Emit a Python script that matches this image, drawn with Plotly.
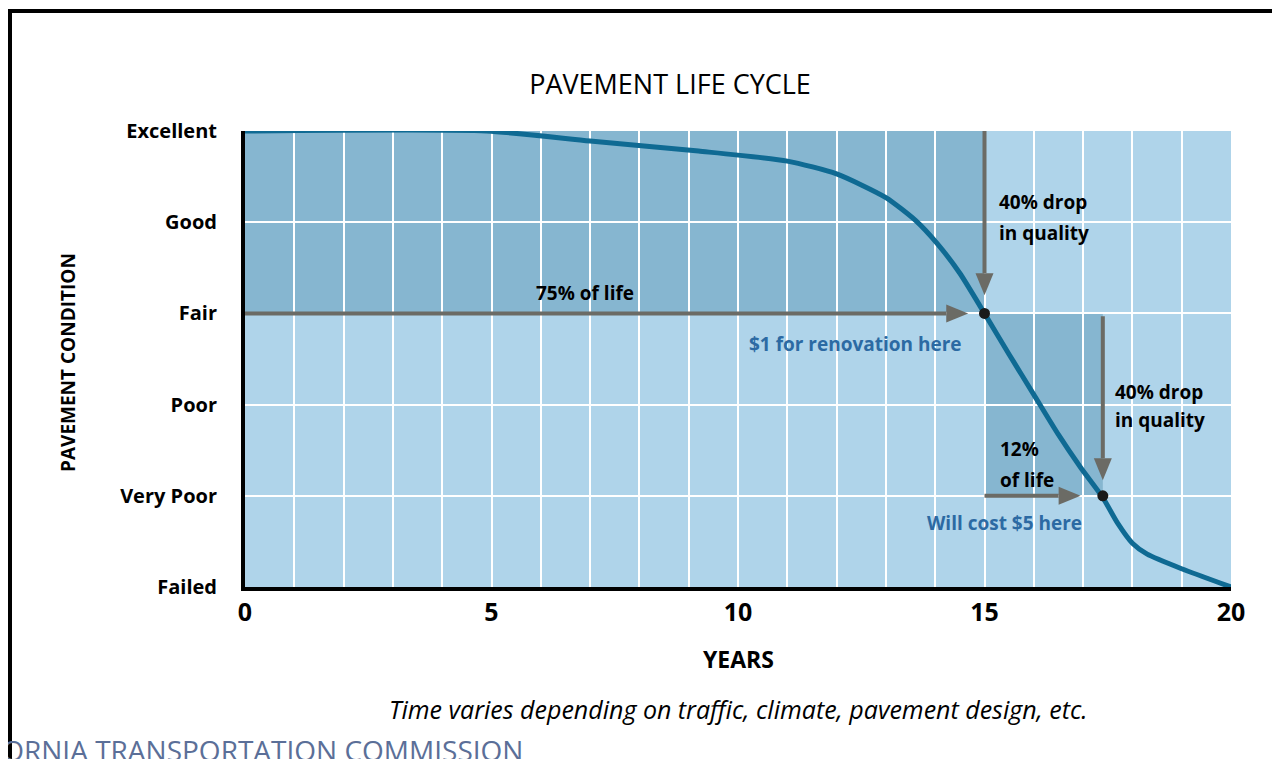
import math

import plotly.graph_objects as go

# pavement condition over time (0 = Failed ... 5 = Excellent)
years = [0, 4.9, 7.0, 9.2, 11.0, 12.0, 13.0, 13.6, 14.05, 14.5, 15.0,
         15.5, 16.0, 16.5, 16.95, 17.4, 17.7, 18.0, 18.3, 19.0, 20.0]
condition = [5, 5, 4.89, 4.78, 4.67, 4.53, 4.27, 4.02, 3.76, 3.44, 3.0,
             2.55, 2.11, 1.67, 1.31, 0.98, 0.70, 0.48, 0.36, 0.2, 0.0]

condition_labels = ["Failed", "Very Poor", "Poor", "Fair", "Good", "Excellent"]
year_ticks = [0, 5, 10, 15, 20]

# renovation points
point_years = [15, 17.4]
point_condition = [3, 1]

# shaded blocks (year range x condition range)
shade_x0 = [0, 15]
shade_x1 = [15, 17.4]
shade_y0 = [3, 1]
shade_y1 = [5, 3]

# arrows: start -> tip
arrow_x0 = [0, 15, 15, 17.4]
arrow_y0 = [3, 5, 1, 2.97]
arrow_x1 = [14.67, 15, 16.95, 17.4]
arrow_y1 = [3, 3.2, 1, 1.17]

# black labels
note_text = ["75% of life", "40% drop", "in quality", "40% drop", "in quality", "12%", "of life"]
note_x = [6.9, 15.25, 15.25, 17.6, 17.6, 15.27, 15.27]
note_y = [3.22, 4.22, 3.88, 2.14, 1.83, 1.51, 1.17]
note_anchor = ["center", "left", "left", "left", "left", "left", "left"]

cost_text = ["$1 for renovation here", "Will cost $5 here"]
cost_x = [12.39, 15.4]
cost_y = [2.66, 0.70]

FONT = "Open Sans"
BG = "#AFD4EA"
DARK = "#86B6D0"
CURVE = "#0F6A93"
GREY = "#6B6B65"
BLUE = "#2C6AA3"

# the page body adds an 8px margin, so work in screen pixels and shift
OFF = 8
W, H = 1280 - OFF, 759 - OFF
PLOT_LEFT, PLOT_RIGHT, PLOT_TOP, PLOT_BOTTOM = 245, 1231, 131, 587
L, T = PLOT_LEFT - OFF, PLOT_TOP - OFF
R, B = W - (PLOT_RIGHT - OFF), H - (PLOT_BOTTOM - OFF)
PW, PH = W - L - R, H - T - B
PX_X = PW / 20
PX_Y = PH / 5


def paper_x(sx):
    return (sx - OFF - L) / PW


def paper_y(sy):
    return (H - B - (sy - OFF)) / PH


fig = go.Figure()

fig.add_trace(
    go.Scatter(
        x=years,
        y=condition,
        mode="lines",
        line=dict(color=CURVE, width=5, shape="spline", smoothing=0.6),
        hoverinfo="skip",
    )
)

fig.add_trace(
    go.Scatter(
        x=point_years,
        y=point_condition,
        mode="markers",
        marker=dict(color="#1A1A1A", size=11),
        hoverinfo="skip",
    )
)

for x0, x1, y0, y1 in zip(shade_x0, shade_x1, shade_y0, shade_y1):
    fig.add_shape(type="rect", x0=x0, x1=x1, y0=y0, y1=y1,
                  fillcolor=DARK, line_width=0, layer="below")

# arrows: a shaft plus a filled triangular head
HEAD_LEN, HEAD_HALF = 22, 9
for x0, y0, x1, y1 in zip(arrow_x0, arrow_y0, arrow_x1, arrow_y1):
    dx, dy = (x1 - x0) * PX_X, (y1 - y0) * PX_Y
    n = math.hypot(dx, dy)
    ux, uy = dx / n, dy / n
    bx, by = x1 - ux * HEAD_LEN / PX_X, y1 - uy * HEAD_LEN / PX_Y
    nx, ny = -uy * HEAD_HALF, ux * HEAD_HALF
    fig.add_shape(type="line", x0=x0, y0=y0, x1=bx, y1=by,
                  line=dict(color=GREY, width=4), layer="above")
    path = "M {} {} L {} {} L {} {} Z".format(
        x1, y1,
        bx + nx / PX_X, by + ny / PX_Y,
        bx - nx / PX_X, by - ny / PX_Y,
    )
    fig.add_shape(type="path", path=path, fillcolor=GREY, line_width=0, layer="above")

for t, x, y, a in zip(note_text, note_x, note_y, note_anchor):
    fig.add_annotation(x=x, y=y, text=f"<b>{t}</b>", showarrow=False, xanchor=a,
                       font=dict(family=FONT, size=19, color="black"))

for t, x, y in zip(cost_text, cost_x, cost_y):
    fig.add_annotation(x=x, y=y, text=f"<b>{t}</b>", showarrow=False,
                       font=dict(family=FONT, size=19, color=BLUE))

# axis titles and footnotes
fig.add_annotation(xref="paper", yref="paper", x=0.5, y=0, yshift=-72, yanchor="middle",
                   text="<b>YEARS</b>", showarrow=False,
                   font=dict(family=FONT, size=23, color="black"))
fig.add_annotation(xref="paper", yref="paper", x=0, xshift=-177, y=paper_y(363),
                   xanchor="center", yanchor="middle",
                   text="<b>PAVEMENT CONDITION</b>", textangle=-90, showarrow=False,
                   font=dict(family=FONT, size=19, color="black"))
fig.add_annotation(xref="paper", yref="paper", x=paper_x(738), y=paper_y(709),
                   yanchor="middle",
                   text="<i>Time varies depending on traffic, climate, pavement design, etc.</i>",
                   showarrow=False, font=dict(family=FONT, size=25, color="black"))
fig.add_annotation(xref="paper", yref="paper", x=paper_x(525), y=paper_y(750),
                   xanchor="right", yanchor="middle",
                   text="CALIFORNIA TRANSPORTATION COMMISSION", showarrow=False,
                   font=dict(family=FONT, size=28, color="#5B6F98"))

# page frame
fig.add_shape(type="line", xref="paper", yref="paper",
              x0=paper_x(8), x1=paper_x(1290), y0=paper_y(11), y1=paper_y(11),
              line=dict(color="black", width=4))
fig.add_shape(type="line", xref="paper", yref="paper",
              x0=paper_x(10), x1=paper_x(10), y0=paper_y(9), y1=paper_y(770),
              line=dict(color="black", width=4))

fig.update_layout(
    width=W,
    height=H,
    margin=dict(l=L, r=R, t=T, b=B),
    paper_bgcolor="white",
    plot_bgcolor=BG,
    showlegend=False,
    title=dict(text="PAVEMENT LIFE CYCLE", x=(670 - OFF) / W, y=1 - (85 - OFF) / H,
               xanchor="center", yanchor="middle",
               font=dict(family=FONT, size=27, color="black")),
    xaxis=dict(
        range=[0, 20],
        tickvals=year_ticks,
        ticktext=[f"<b>{v}</b>" for v in year_ticks],
        tickfont=dict(family=FONT, size=25, color="black"),
        ticklabelstandoff=0,
        showgrid=True, gridcolor="white", gridwidth=2,
        minor=dict(dtick=1, showgrid=True, gridcolor="white", gridwidth=2),
        showline=True, linecolor="black", linewidth=4,
        zeroline=False, fixedrange=True,
    ),
    yaxis=dict(
        range=[0, 5],
        tickvals=list(range(6)),
        ticktext=[f"<b>{c}</b>" for c in condition_labels],
        tickfont=dict(family=FONT, size=20, color="black"),
        ticklabelstandoff=20,
        showgrid=True, gridcolor="white", gridwidth=2,
        showline=True, linecolor="black", linewidth=4,
        zeroline=False, fixedrange=True,
    ),
)

fig.write_html("out.html")
